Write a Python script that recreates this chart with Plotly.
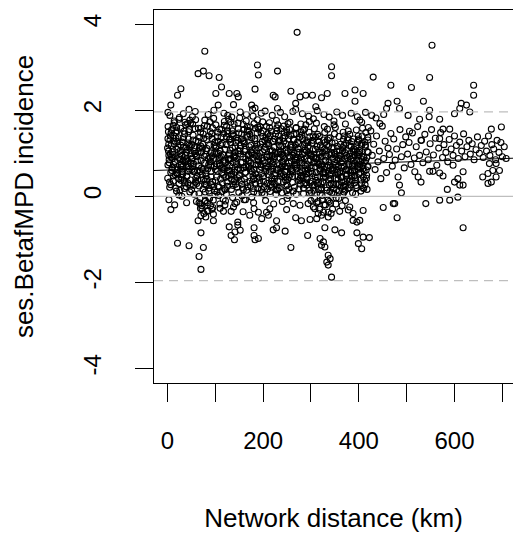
import plotly.graph_objects as go

# ---- data: core cloud (network distance km, ses.BetafMPD incidence) ----
core_x = [
    0.5, 2.1, 3.8, 5.2, 6.9, 8.4, 1.3, 4.6, 7.7, 9.5, 2.9, 6.1,
    10.4, 12.2, 13.9, 15.5, 17.1, 18.8, 11.3, 14.6, 16.4, 19.6, 12.9, 17.8,
    20.7, 22.3, 24.1, 25.6, 27.4, 29.2, 21.5, 23.8, 26.5, 28.3, 24.9, 27.9,
    30.2, 31.9, 33.6, 35.3, 37.0, 38.7, 31.1, 34.4, 36.2, 39.5, 32.8, 37.9,
    40.6, 42.4, 44.0, 45.8, 47.5, 49.1, 41.5, 43.3, 46.7, 48.3, 44.9, 42.9,
    50.3, 51.8, 53.5, 55.1, 56.8, 58.5, 52.6, 54.3, 57.6, 59.4, 55.9, 50.9,
    60.5, 62.1, 63.8, 65.4, 67.2, 68.9, 61.3, 64.6, 66.3, 69.7, 63.0, 67.9,
    70.4, 72.0, 73.7, 75.3, 77.1, 78.8, 71.2, 74.5, 76.2, 79.6, 73.1, 77.8,
    80.2, 81.9, 83.6, 85.2, 86.9, 88.6, 81.0, 84.4, 86.1, 89.4, 82.7, 87.7,
    90.6, 92.3, 94.0, 95.7, 97.4, 99.1, 91.4, 93.2, 96.5, 98.2, 94.8, 90.9,
    100.3, 101.9, 103.6, 105.3, 107.0, 108.7, 101.1, 104.4, 106.1, 109.5, 102.8, 107.8,
    110.5, 112.1, 113.8, 115.4, 117.2, 118.9, 111.3, 114.6, 116.3, 119.7, 113.0, 117.9,
    120.4, 122.0, 123.7, 125.3, 127.1, 128.8, 121.2, 124.5, 126.2, 129.6, 123.1, 127.8,
    130.2, 131.9, 133.6, 135.2, 136.9, 138.6, 131.0, 134.4, 136.1, 139.4, 132.7, 137.7,
    140.6, 142.3, 144.0, 145.7, 147.4, 149.1, 141.4, 143.2, 146.5, 148.2, 144.8, 140.9,
    150.3, 151.8, 153.5, 155.1, 156.8, 158.5, 152.6, 154.3, 157.6, 159.4, 155.9, 150.9,
    160.5, 162.1, 163.8, 165.4, 167.2, 168.9, 161.3, 164.6, 166.3, 169.7, 163.0, 167.9,
    170.4, 172.0, 173.7, 175.3, 177.1, 178.8, 171.2, 174.5, 176.2, 179.6, 173.1, 177.8,
    180.2, 181.9, 183.6, 185.2, 186.9, 188.6, 181.0, 184.4, 186.1, 189.4, 182.7, 187.7,
    190.6, 192.3, 194.0, 195.7, 197.4, 199.1, 191.4, 193.2, 196.5, 198.2, 194.8, 190.9,
    200.3, 201.9, 203.6, 205.3, 207.0, 208.7, 201.1, 204.4, 206.1, 209.5, 202.8, 207.8,
    210.5, 212.1, 213.8, 215.4, 217.2, 218.9, 211.3, 214.6, 216.3, 219.7, 213.0, 217.9,
    220.4, 222.0, 223.7, 225.3, 227.1, 228.8, 221.2, 224.5, 226.2, 229.6, 223.1, 227.8,
    230.2, 231.9, 233.6, 235.2, 236.9, 238.6, 231.0, 234.4, 236.1, 239.4, 232.7, 237.7,
    240.6, 242.3, 244.0, 245.7, 247.4, 249.1, 241.4, 243.2, 246.5, 248.2, 244.8, 240.9,
    250.3, 251.8, 253.5, 255.1, 256.8, 258.5, 252.6, 254.3, 257.6, 259.4, 255.9, 250.9,
    260.5, 262.1, 263.8, 265.4, 267.2, 268.9, 261.3, 264.6, 266.3, 269.7, 263.0, 267.9,
    270.4, 272.0, 273.7, 275.3, 277.1, 278.8, 271.2, 274.5, 276.2, 279.6, 273.1, 277.8,
    280.2, 281.9, 283.6, 285.2, 286.9, 288.6, 281.0, 284.4, 286.1, 289.4, 282.7, 287.7,
    290.6, 292.3, 294.0, 295.7, 297.4, 299.1, 291.4, 293.2, 296.5, 298.2, 294.8, 290.9,
    300.3, 301.9, 303.6, 305.3, 307.0, 308.7, 301.1, 304.4, 306.1, 309.5, 302.8, 307.8,
    310.5, 312.1, 313.8, 315.4, 317.2, 318.9, 311.3, 314.6, 316.3, 319.7, 313.0, 317.9,
    320.4, 322.0, 323.7, 325.3, 327.1, 328.8, 321.2, 324.5, 326.2, 329.6, 323.1, 327.8,
    330.2, 331.9, 333.6, 335.2, 336.9, 338.6, 331.0, 334.4, 336.1, 339.4, 332.7, 337.7,
    340.6, 342.3, 344.0, 345.7, 347.4, 349.1, 341.4, 343.2, 346.5, 348.2, 344.8, 340.9,
    350.3, 351.8, 353.5, 355.1, 356.8, 358.5, 352.6, 354.3, 357.6, 359.4, 355.9, 350.9,
    360.5, 362.1, 363.8, 365.4, 367.2, 368.9, 361.3, 364.6, 366.3, 369.7, 363.0, 367.9,
    370.4, 372.0, 373.7, 375.3, 377.1, 378.8, 371.2, 374.5, 376.2, 379.6, 373.1, 377.8,
    380.2, 381.9, 383.6, 385.2, 386.9, 388.6, 381.0, 384.4, 386.1, 389.4, 382.7, 387.7,
    390.6, 392.3, 394.0, 395.7, 397.4, 399.1, 391.4, 393.2, 396.5, 398.2, 394.8, 390.9,
    400.3, 401.9, 403.6, 405.3, 407.0, 408.7, 401.1, 404.4, 406.1, 409.5, 402.8, 407.8,
    410.5, 412.1, 413.8, 415.4, 417.2, 418.9, 411.3, 414.6, 416.3, 419.7, 413.0, 417.9,
]
core_y = [
    0.42, 1.05, 0.78, 1.31, 0.55, 0.91, 1.62, 0.21, 1.18, 0.67, 0.95, 1.40,
    0.88, 0.35, 1.22, 0.64, 1.48, 0.12, 0.97, 1.71, 0.50, 1.09, 0.74, 1.35,
    0.61, 1.14, 0.29, 0.86, 1.58, 0.44, 1.27, 0.03, 0.99, 0.72, 1.83, 0.37,
    0.95, 0.52, 1.36, 0.18, 0.79, 1.12, 0.63, 1.51, 0.31, 1.02, 0.84, 1.66,
    0.47, 1.24, 0.70, 1.55, 0.26, 0.93, 1.08, 0.58, 1.77, 0.38, 1.19, 0.81,
    0.15, 0.89, 1.42, 0.57, 1.13, 0.33, 1.68, 0.76, 0.99, 1.29, 0.05, 0.62,
    -0.12, 0.48, 1.03, 0.71, 1.37, -0.28, 0.92, 1.58, 0.24, 1.17, 0.60, -0.05,
    0.83, -0.22, 1.21, 0.39, 1.64, 0.10, 0.66, 1.45, -0.40, 0.97, 1.12, 0.28,
    0.54, 1.32, -0.15, 0.88, 0.19, 1.73, 1.06, -0.33, 0.73, 1.50, 0.40, 1.18,
    1.01, 0.27, 1.59, -0.09, 0.69, 1.26, 0.45, 0.94, 1.81, 0.13, -0.26, 0.81,
    0.36, 1.17, 0.75, 1.49, 0.02, 0.90, 1.66, 0.58, 1.28, -0.18, 0.99, 0.21,
    0.72, 1.38, 0.11, 0.97, 0.49, 1.74, 1.20, 0.31, -0.07, 0.84, 1.55, 0.63,
    1.09, 0.44, 1.63, 0.23, 0.85, 1.31, -0.11, 0.67, 1.46, 0.96, 0.05, 1.79,
    0.59, 1.25, 0.16, 1.52, 0.78, 0.34, 1.07, 1.84, -0.03, 0.91, 0.50, 1.41,
    0.93, 0.28, 1.36, 0.62, 1.70, 0.09, 1.15, 0.81, 0.43, 1.57, -0.14, 1.02,
    0.47, 1.11, 0.79, 1.45, 0.20, 1.67, 0.98, 0.37, 1.29, 0.66, 0.01, 1.82,
    1.23, 0.55, 0.87, 0.14, 1.53, 0.70, 1.04, 1.75, 0.32, 0.95, -0.08, 1.38,
    0.68, 1.44, 0.25, 1.01, 0.57, 1.86, 0.82, 1.19, -0.02, 0.41, 1.61, 0.90,
    0.39, 0.96, 1.58, 0.73, 1.21, 0.18, 1.69, 0.52, 1.06, 0.85, 1.34, 0.07,
    1.12, 0.61, 0.29, 1.47, 0.88, 1.73, 0.45, 1.00, 0.16, 1.27, 0.74, 1.56,
    0.83, 0.22, 1.30, 0.58, 1.62, 0.97, 0.35, 1.14, 0.70, 1.45, 0.04, 0.91,
    0.50, 1.18, 0.93, 0.27, 1.51, 0.76, 1.36, 0.11, 1.05, 0.64, 1.71, 0.43,
    1.27, 0.71, 0.40, 1.02, 0.15, 1.59, 0.86, 1.33, 0.54, 0.99, 0.30, 1.76,
    0.62, 1.40, 0.19, 0.89, 1.16, 0.47, 1.66, 0.74, 1.03, 0.08, 1.28, 0.56,
    0.95, 0.33, 1.49, 0.69, 1.22, 0.13, 0.81, 1.63, 0.44, 1.07, 0.58, 1.35,
    0.26, 1.04, 0.77, 1.55, 0.51, 1.19, 0.02, 0.90, 1.41, 0.65, 1.72, 0.38,
    1.14, 0.57, 1.31, 0.21, 0.84, 1.60, 0.46, 1.00, 0.69, 1.45, 0.12, 0.92,
    0.73, 1.26, 0.36, 1.02, 0.55, 1.68, 0.90, 0.17, 1.37, 0.61, 1.11, 0.43,
    0.48, 0.97, 1.53, 0.28, 1.20, 0.71, 1.42, 0.06, 0.86, 1.66, 0.59, 1.08,
    1.06, 0.40, 0.82, 1.49, 0.14, 0.95, 1.29, 0.63, 1.74, 0.31, 1.01, 0.52,
    0.66, 1.23, 0.24, 0.91, 1.57, 0.45, 0.08, 1.10, 0.78, 1.38, 0.53, -0.06,
    0.37, 0.88, 1.44, 0.16, 1.02, 0.60, 1.70, -0.12, 0.74, 1.19, 0.29, 0.97,
    0.92, 0.19, 1.13, 0.55, -0.20, 1.48, 0.70, 0.34, 1.31, 0.83, 0.02, 1.62,
    0.44, 1.07, 0.67, -0.09, 1.35, 0.26, 0.93, 1.56, 0.58, 0.11, 1.19, 0.80,
    0.71, 0.30, 1.24, 0.87, 0.05, 1.45, 0.52, 1.01, 0.18, 1.66, 0.63, -0.16,
    0.98, 0.41, 0.15, 1.16, 0.69, 1.39, -0.04, 0.84, 0.27, 1.05, 0.56, 1.60,
    0.58, 1.21, 0.33, 0.82, 1.49, 0.10, 0.96, 0.46, 1.13, 0.70, 0.21, 1.32,
    0.87, 0.24, 1.08, 0.51, 1.36, 0.73, 0.14, 0.95, 0.40, 1.18, 0.62, 1.52,
    0.35, 0.99, 0.61, 1.27, 0.08, 0.82, 1.44, 0.47, 0.71, 1.10, 0.26, 0.90,
    0.76, 0.43, 1.15, 0.20, 0.94, 1.33, 0.59, 0.05, 1.02, 0.68, 1.54, 0.31,
    0.52, 1.06, 0.81, 0.29, 1.40, 0.64, 0.97, 0.12, 1.23, 0.45, 0.74, 1.58,
    0.90, 0.38, 1.19, 0.61, 0.16, 1.31, 0.79, 1.48, 0.49, 1.02, 0.27, 0.69,
]

# ---- data: second core layer (denser middle band) ----
core2_x = [
    1.0, 2.6, 4.3, 5.9, 7.5, 9.2, 0.2, 3.5, 6.7, 8.8,
    11.0, 12.6, 14.3, 15.9, 17.5, 19.2, 10.2, 13.5, 16.7, 18.8,
    21.0, 22.6, 24.3, 25.9, 27.5, 29.2, 20.2, 23.5, 26.7, 28.8,
    31.0, 32.6, 34.3, 35.9, 37.5, 39.2, 30.2, 33.5, 36.7, 38.8,
    41.0, 42.6, 44.3, 45.9, 47.5, 49.2, 40.2, 43.5, 46.7, 48.8,
    51.0, 52.6, 54.3, 55.9, 57.5, 59.2, 50.2, 53.5, 56.7, 58.8,
    61.0, 62.6, 64.3, 65.9, 67.5, 69.2, 60.2, 63.5, 66.7, 68.8,
    71.0, 72.6, 74.3, 75.9, 77.5, 79.2, 70.2, 73.5, 76.7, 78.8,
    81.0, 82.6, 84.3, 85.9, 87.5, 89.2, 80.2, 83.5, 86.7, 88.8,
    91.0, 92.6, 94.3, 95.9, 97.5, 99.2, 90.2, 93.5, 96.7, 98.8,
    101.0, 102.6, 104.3, 105.9, 107.5, 109.2, 100.2, 103.5, 106.7, 108.8,
    111.0, 112.6, 114.3, 115.9, 117.5, 119.2, 110.2, 113.5, 116.7, 118.8,
    121.0, 122.6, 124.3, 125.9, 127.5, 129.2, 120.2, 123.5, 126.7, 128.8,
    131.0, 132.6, 134.3, 135.9, 137.5, 139.2, 130.2, 133.5, 136.7, 138.8,
    141.0, 142.6, 144.3, 145.9, 147.5, 149.2, 140.2, 143.5, 146.7, 148.8,
    151.0, 152.6, 154.3, 155.9, 157.5, 159.2, 150.2, 153.5, 156.7, 158.8,
    161.0, 162.6, 164.3, 165.9, 167.5, 169.2, 160.2, 163.5, 166.7, 168.8,
    171.0, 172.6, 174.3, 175.9, 177.5, 179.2, 170.2, 173.5, 176.7, 178.8,
    181.0, 182.6, 184.3, 185.9, 187.5, 189.2, 180.2, 183.5, 186.7, 188.8,
    191.0, 192.6, 194.3, 195.9, 197.5, 199.2, 190.2, 193.5, 196.7, 198.8,
    201.0, 202.6, 204.3, 205.9, 207.5, 209.2, 200.2, 203.5, 206.7, 208.8,
    211.0, 212.6, 214.3, 215.9, 217.5, 219.2, 210.2, 213.5, 216.7, 218.8,
    221.0, 222.6, 224.3, 225.9, 227.5, 229.2, 220.2, 223.5, 226.7, 228.8,
    231.0, 232.6, 234.3, 235.9, 237.5, 239.2, 230.2, 233.5, 236.7, 238.8,
    241.0, 242.6, 244.3, 245.9, 247.5, 249.2, 240.2, 243.5, 246.7, 248.8,
    251.0, 252.6, 254.3, 255.9, 257.5, 259.2, 250.2, 253.5, 256.7, 258.8,
    261.0, 262.6, 264.3, 265.9, 267.5, 269.2, 260.2, 263.5, 266.7, 268.8,
    271.0, 272.6, 274.3, 275.9, 277.5, 279.2, 270.2, 273.5, 276.7, 278.8,
    281.0, 282.6, 284.3, 285.9, 287.5, 289.2, 280.2, 283.5, 286.7, 288.8,
    291.0, 292.6, 294.3, 295.9, 297.5, 299.2, 290.2, 293.5, 296.7, 298.8,
    301.0, 302.6, 304.3, 305.9, 307.5, 309.2, 300.2, 303.5, 306.7, 308.8,
    311.0, 312.6, 314.3, 315.9, 317.5, 319.2, 310.2, 313.5, 316.7, 318.8,
    321.0, 322.6, 324.3, 325.9, 327.5, 329.2, 320.2, 323.5, 326.7, 328.8,
    331.0, 332.6, 334.3, 335.9, 337.5, 339.2, 330.2, 333.5, 336.7, 338.8,
    341.0, 342.6, 344.3, 345.9, 347.5, 349.2, 340.2, 343.5, 346.7, 348.8,
    351.0, 352.6, 354.3, 355.9, 357.5, 359.2, 350.2, 353.5, 356.7, 358.8,
    361.0, 362.6, 364.3, 365.9, 367.5, 369.2, 360.2, 363.5, 366.7, 368.8,
    371.0, 372.6, 374.3, 375.9, 377.5, 379.2, 370.2, 373.5, 376.7, 378.8,
    381.0, 382.6, 384.3, 385.9, 387.5, 389.2, 380.2, 383.5, 386.7, 388.8,
    391.0, 392.6, 394.3, 395.9, 397.5, 399.2, 390.2, 393.5, 396.7, 398.8,
    401.0, 402.6, 404.3, 405.9, 407.5, 409.2, 400.2, 403.5, 406.7, 408.8,
    411.0, 412.6, 414.3, 415.9, 417.5, 419.2, 410.2, 413.5, 416.7, 418.8,
]
core2_y = [
    0.73, 1.21, 0.33, 0.98, 1.47, 0.60, 1.12, 0.85, 0.27, 1.55,
    1.03, 0.47, 1.28, 0.81, 0.19, 1.60, 0.66, 1.40, 0.92, 0.54,
    0.52, 1.36, 0.90, 0.14, 1.19, 0.75, 1.52, 0.41, 1.06, 0.68,
    1.26, 0.70, 0.37, 1.45, 0.95, 0.22, 0.58, 1.14, 1.72, 0.85,
    0.88, 0.31, 1.50, 0.63, 1.16, 0.99, 0.46, 1.33, 0.10, 0.77,
    1.20, 0.69, 0.25, 1.04, 1.57, 0.42, 0.86, 1.31, 0.58, 1.78,
    0.30, 0.82, 1.27, 0.06, 0.57, 1.49, 0.95, 0.38, 1.12, -0.18,
    1.02, 0.50, 0.17, 1.35, 0.77, -0.10, 1.58, 0.62, 0.93, 0.35,
    0.26, 1.11, 0.64, 1.40, -0.05, 0.90, 0.47, 1.63, 0.12, 0.80,
    0.58, 1.45, 0.34, 0.86, 1.18, 0.04, 0.71, 1.34, 0.22, 1.02,
    1.12, 0.45, 1.38, 0.24, 0.83, 1.56, 0.62, 0.10, 1.00, 0.76,
    0.40, 0.92, 1.23, 0.66, 1.46, 0.18, 1.05, 0.55, 0.81, 1.65,
    0.78, 1.20, 0.33, 1.52, 0.61, 0.99, 0.15, 1.38, 0.48, 0.87,
    1.34, 0.87, 0.52, 1.12, 0.25, 1.68, 0.70, 0.40, 1.45, 0.96,
    0.56, 1.25, 0.74, 0.21, 1.05, 1.47, 0.38, 0.89, 1.30, 0.65,
    1.06, 0.62, 1.33, 0.28, 0.91, 1.55, 0.50, 1.18, 0.79, 0.16,
    0.40, 1.09, 0.69, 1.42, 0.22, 0.83, 1.27, 0.56, 1.62, 0.97,
    1.15, 0.35, 0.77, 1.36, 0.99, 0.18, 1.52, 0.64, 1.08, 0.47,
    0.62, 1.29, 0.28, 0.94, 1.47, 0.75, 0.10, 1.12, 0.42, 1.61,
    0.92, 0.36, 1.21, 0.68, 0.08, 1.39, 0.82, 1.62, 0.53, 1.04,
    0.46, 1.08, 0.65, 1.36, 0.92, 0.17, 1.52, 0.78, 1.21, 0.30,
    1.22, 0.58, 1.41, 0.83, 0.35, 1.06, 0.68, 1.60, 0.21, 0.95,
    0.80, 1.14, 0.48, 1.45, 0.63, 0.24, 1.28, 0.92, 0.05, 1.52,
    0.34, 1.02, 1.30, 0.52, 1.57, 0.80, 0.15, 1.19, 0.66, 0.98,
    1.17, 0.50, 0.88, 1.40, 0.24, 1.00, 0.71, 1.28, 0.38, 1.55,
    0.69, 1.33, 0.44, 0.93, 1.15, 0.59, 1.48, 0.17, 1.08, 0.82,
    0.32, 0.95, 1.44, 0.74, 1.19, 0.05, 0.61, 1.33, 0.88, 1.58,
    1.03, 0.46, 1.22, 0.81, 0.28, 1.50, 0.65, 1.10, 0.38, 0.90,
    0.77, 1.34, 0.19, 1.02, 0.60, 1.24, 0.86, 0.43, 1.56, 0.31,
    0.26, 0.73, 1.16, 0.55, 1.38, 0.85, 0.44, 1.25, 0.07, 0.98,
    0.94, 0.35, 1.40, 0.14, 0.80, 1.09, 0.58, 1.30, 0.27, 0.69,
    0.55, 1.16, 0.78, 0.32, 1.39, 0.06, 0.87, 0.45, 1.28, 0.64,
    0.29, 0.75, 1.02, 0.44, 0.63, 1.25, 0.15, 0.93, 0.52, 1.10,
    0.83, 0.20, 1.31, 0.72, 0.38, 0.98, 0.56, 0.14, 1.16, 0.49,
    0.41, 0.96, 0.60, 1.14, 0.27, 0.79, 1.36, 0.08, 0.67, 1.02,
    0.72, 0.29, 1.05, 0.50, 0.88, 0.12, 1.24, 0.62, 0.40, 0.94,
    0.87, 0.44, 0.66, 1.06, 0.25, 1.40, 0.55, 0.78, 0.05, 1.18,
    0.34, 1.23, 0.61, 0.90, 0.18, 0.75, 1.02, 0.47, 1.31, 0.60,
    0.93, 0.55, 1.16, 0.36, 0.71, 1.33, 0.20, 0.86, 0.58, 1.05,
    0.48, 1.08, 0.25, 0.84, 1.25, 0.63, 0.96, 0.38, 0.72, 1.40,
    1.02, 0.66, 0.38, 1.19, 0.85, 0.20, 1.30, 0.55, 0.93, 0.71,
    0.58, 1.26, 0.83, 0.42, 1.04, 0.69, 0.18, 1.15, 0.90, 1.37,
]

# ---- data: points on the upper fringe of the cloud ----
fringe_x = [5, 14, 33, 52, 58, 85, 97, 118, 126, 152, 165, 178, 196, 204, 219, 236, 245, 262, 282, 295,
            313, 327, 338, 354, 366, 384, 397, 414, 436, 452, 12, 48, 132, 188, 252, 305, 348, 372, 406, 420]
fringe_y = [1.88, 1.75, 1.92, 1.85, 1.97, 1.90, 2.00, 1.93, 1.88, 1.96, 1.90, 2.02, 1.93, 1.98, 1.88, 1.95,
            1.85, 1.97, 1.92, 1.86, 1.99, 1.90, 1.84, 1.96, 1.88, 1.93, 1.85, 1.95, 1.82, 1.90, 1.65, 1.70,
            1.72, 1.78, 1.69, 1.80, 1.75, 1.68, 1.72, 1.60]

# ---- data: sparser far-distance points ----
far_x = [425, 428, 431, 434, 437, 440, 443, 446, 449, 452, 455, 458, 461, 464, 467, 470,
         473, 476, 479, 482, 486, 489, 492, 495, 498, 502, 505, 509, 512, 516, 520, 523,
         527, 531, 534, 538, 541, 545, 549, 552, 556, 560, 563, 567, 571, 575, 578, 582,
         586, 589, 593, 597, 600, 604, 608, 611, 615, 619, 622, 626, 630, 633, 637, 641,
         645, 648, 652, 656, 660, 663, 667, 671, 674, 678, 682, 686, 689, 693, 697, 700,
         704, 708]
far_y = [1.52, 0.95, 1.21, 0.62, 1.40, 0.80, 1.05, 0.41, 1.63, 0.88, 1.28, 0.55, 1.12, 0.97, 1.46, 0.70,
         1.33, 0.84, 1.10, 0.45, 1.55, 0.92, 1.20, 0.66, 1.38, 0.98, 1.25, 0.74, 1.47, 0.89, 1.15, 1.62,
         0.95, 1.30, 0.78, 1.44, 1.03, 0.85, 1.22, 1.55, 0.96, 1.35, 0.72, 1.12, 1.48, 0.90, 1.20, 1.02,
         0.80, 1.32, 1.10, 0.95, 1.40, 1.18, 0.88, 1.26, 1.05, 1.45, 0.92, 1.15, 1.30, 0.98, 1.22, 0.85,
         1.08, 1.38, 1.00, 1.18, 0.90, 1.28, 1.05, 1.40, 0.95, 1.20, 1.10, 0.85, 1.30, 1.02, 1.25, 0.92,
         1.15, 0.88]

# ---- data: outlying points ----
out_x = [78, 64, 75, 87, 108, 188, 190, 183, 28, 21, 7, 1, 45, 113, 101, 129, 145, 148, 138, 106,
         176, 183, 221, 230, 24, 42, 78, 2, 1,
         271, 343, 343, 430, 467, 258, 277, 289, 303, 322, 334, 268, 268, 310, 371, 392, 409, 392,
         427, 444, 461, 458, 225, 230, 402,
         553, 548, 510, 640, 640, 535, 480, 485, 548, 614, 625, 611, 632, 600, 503, 527, 547, 569,
         698, 677, 506, 590, 576, 530, 569,
         618, 480, 540, 569, 590, 607, 585, 475, 485, 489, 517, 524, 530, 548, 555, 569, 576, 600,
         607, 618, 611, 618, 597, 659, 670, 677, 670, 680, 687, 694, 687, 673,
         343, 336, 340, 333, 336, 319, 326, 322, 329, 258, 293, 246, 228, 228, 329, 350, 364, 268,
         280, 298, 312, 249, 322, 336, 294, 308, 315, 326, 336, 263, 277,
         451, 472, 396, 409, 422, 399, 406, 388, 388, 396, 381, 402, 409,
         70, 66, 75, 21, 45, 70, 64, 96, 7, 3, 117, 133, 129, 133, 140, 147, 147, 152, 141, 181,
         181, 183, 190, 158, 172, 181, 190, 197, 207, 214, 211, 221, 141, 138,
         66, 72, 78, 84, 90, 96, 70, 88, 80, 93,
         300, 305, 312, 318, 324, 330, 338, 345, 352, 358, 365, 372, 378, 360, 342,
         250, 240, 222, 205, 180, 160, 120, 110, 40, 30, 15]
out_y = [3.37, 2.85, 2.91, 2.80, 2.76, 3.05, 2.82, 2.49, 2.50, 2.35, 2.12, 1.95, 2.02, 2.54, 2.39,
         2.39, 2.39, 2.31, 2.13, 2.12, 2.12, 2.05, 2.35, 2.91, 1.79, 1.69, 1.77, 1.50, 1.34,
         3.81, 3.01, 2.80, 2.77, 2.58, 2.44, 2.31, 2.35, 2.35, 2.29, 2.39, 2.16, 2.02, 2.08, 2.39,
         2.47, 2.39, 2.21, 1.88, 1.69, 2.16, 2.04, 2.31, 2.04, 1.77,
         3.51, 2.76, 2.53, 2.58, 2.35, 2.21, 2.21, 2.04, 2.00, 2.16, 2.12, 2.04, 1.96, 1.92, 1.88,
         1.79, 1.85, 1.79, 1.61, 1.56, 1.51, 1.56, 1.56, 1.30, 1.34,
         -0.73, -0.50, -0.17, -0.09, -0.09, -0.02, 0.16, -0.17, 0.26, 0.08, 0.57, 0.45, 0.33, 0.58,
         0.58, 0.54, 0.47, 0.33, 0.41, 0.57, 0.26, 0.26, 0.72, 0.45, 0.53, 0.33, 0.30, 0.60, 0.45,
         0.60, 0.76, 0.76,
         -1.88, -1.37, -1.45, -1.53, -1.60, -0.98, -1.06, -1.14, -1.18, -1.19, -0.91, -0.81, -0.57,
         -0.73, -0.73, -0.78, -0.85, -0.50, -0.57, -0.54, -0.52, -0.31, -0.44, -0.48, -0.17, -0.29,
         -0.40, -0.37, -0.37, -0.17, -0.21,
         -0.26, -0.17, -0.85, -0.95, -0.96, -1.10, -1.22, -0.40, -0.56, -0.60, -0.25, -0.56, -0.33,
         -1.70, -1.40, -1.19, -1.09, -1.15, -0.85, -0.57, -0.57, -0.31, -0.08, -0.35, -0.35, -0.71,
         -0.91, -1.01, -0.60, -0.67, -0.79, -0.83, -0.73, -0.91, -1.01, -0.98, -0.36, -0.44, -0.29,
         -0.37, -0.52, -0.37, -0.29, -0.44, -0.78, -0.17, -0.25,
         -0.15, -0.28, -0.12, -0.35, -0.22, -0.42, -0.45, -0.05, -0.48, -0.30,
         -0.10, -0.25, -0.15, -0.30, -0.08, -0.20, -0.12, -0.30, -0.18, -0.05, -0.22, -0.10, -0.32,
         -0.35, -0.40,
         -0.05, -0.12, -0.18, -0.10, -0.15, -0.08, -0.20, -0.28, -0.15, 0.00, -0.20]

# fitted regression and reference levels
fit_intercept = 0.61
fit_slope = 0.00038
ref_zero = 0
ref_sig = 1.96

x_range = [-28.2, 722.3]
y_range = [-4.34, 4.33]

dist = core_x + core2_x + fringe_x + far_x + out_x
ses = core_y + core2_y + fringe_y + far_y + out_y

FONT = "Liberation Sans, Arial, sans-serif"

fig = go.Figure()
fig.add_trace(go.Scatter(
    x=dist, y=ses, mode="markers",
    marker=dict(symbol="circle-open", size=6, color="black", line=dict(width=1.1, color="black")),
    showlegend=False, hoverinfo="skip"))

fig.add_trace(go.Scatter(
    x=x_range, y=[fit_intercept + fit_slope * v for v in x_range], mode="lines",
    line=dict(color="black", width=1), showlegend=False, hoverinfo="skip"))

for lvl, dash in [(ref_zero, "solid"), (ref_sig, "9px,6px"), (-ref_sig, "9px,6px")]:
    fig.add_shape(type="line", xref="paper", yref="y", x0=0, x1=1, y0=lvl, y1=lvl,
                  line=dict(color="#bebebe", width=1.3, dash=dash), layer="above")

fig.update_layout(
    width=513, height=545,
    margin=dict(l=154, r=0, t=10, b=162),
    paper_bgcolor="white", plot_bgcolor="white",
    font=dict(family=FONT, color="black", size=24),
    showlegend=False,
)
fig.update_xaxes(
    range=x_range, showgrid=False, zeroline=False,
    showline=True, mirror=True, linecolor="black", linewidth=1,
    ticks="outside", ticklen=18, tickwidth=1, tickcolor="black",
    tickvals=[0, 100, 200, 300, 400, 500, 600, 700],
    ticktext=["0", "", "200", "", "400", "", "600", ""],
    tickfont=dict(size=24), ticklabelstandoff=18,
    title=dict(text="Network distance (km)", font=dict(size=26), standoff=56),
)
fig.update_yaxes(
    range=y_range, showgrid=False, zeroline=False,
    showline=True, mirror=False, linecolor="black", linewidth=1,
    ticks="outside", ticklen=18, tickwidth=1, tickcolor="black",
    tickvals=[-4, -2, 0, 2, 4], ticktext=["-4", "-2", "0", "2", "4"],
    tickangle=-90, tickfont=dict(size=24), ticklabelstandoff=24,
    title=dict(text="ses.BetafMPD incidence", font=dict(size=26), standoff=38),
)

fig.write_html("out.html")
